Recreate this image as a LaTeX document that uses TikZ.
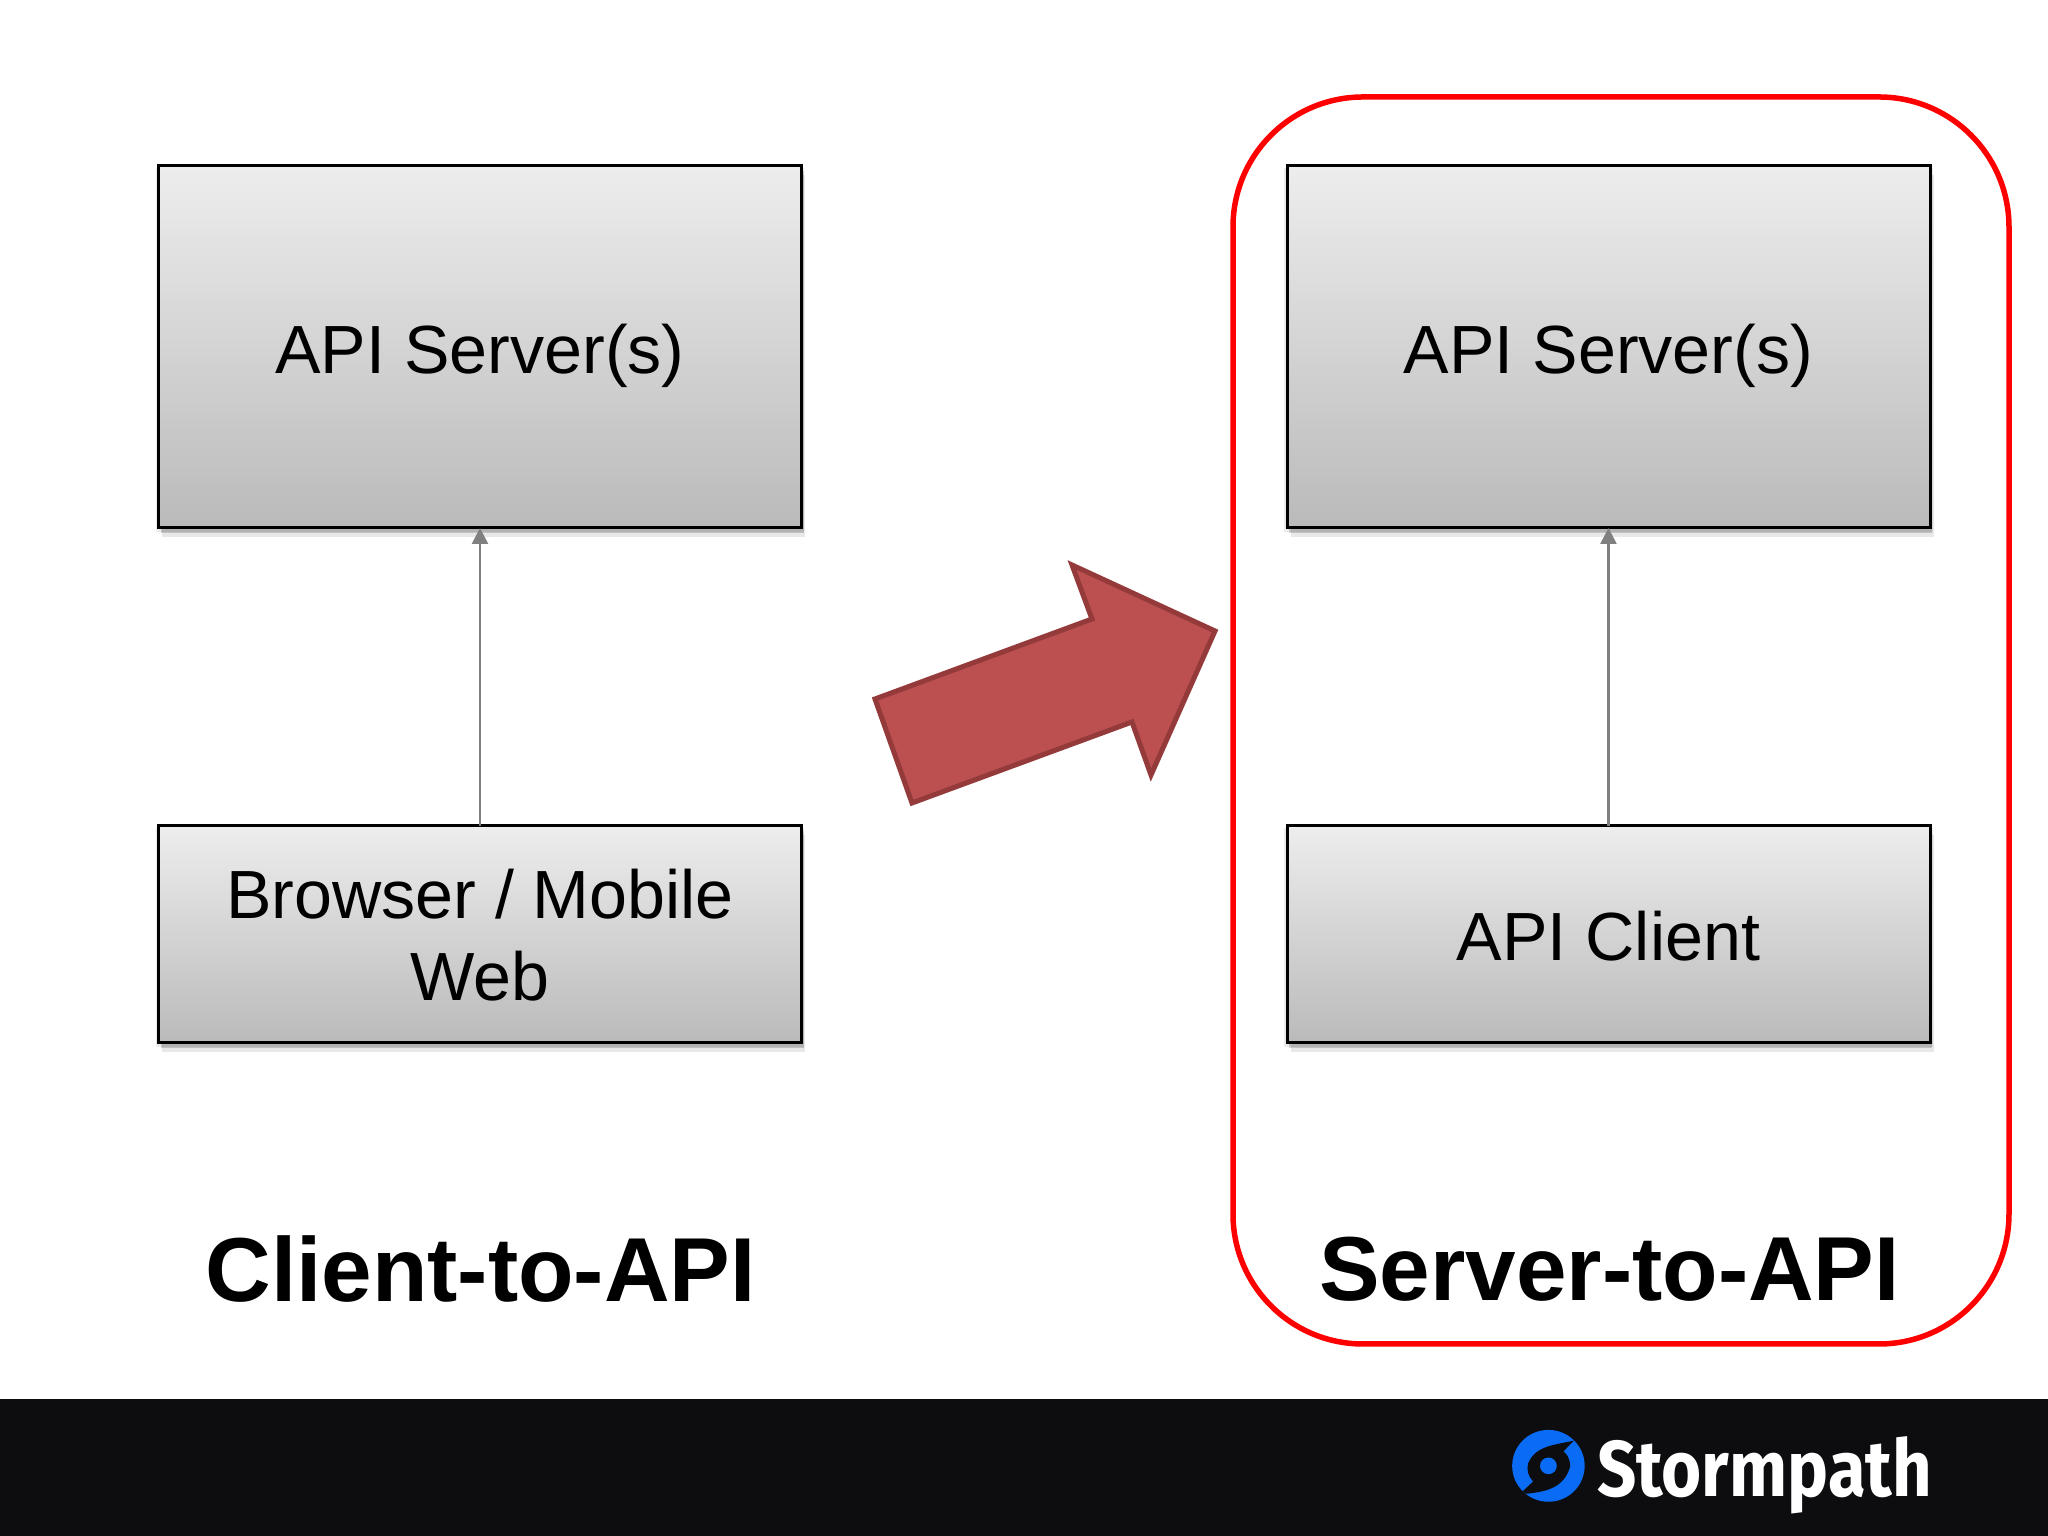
\documentclass[tikz,border=0pt]{standalone}
\usepackage{fontspec}
\setmainfont{Liberation Sans}
\newfontfamily\logofont{Fira Sans}
\usetikzlibrary{arrows.meta,shadows}
\definecolor{bandblack}{HTML}{0D0D0F}
\definecolor{logoblue}{HTML}{0A6CF5}
\definecolor{arrowfill}{HTML}{BC5050}
\definecolor{arrowedge}{HTML}{943A3A}
\tikzset{
    tierbox/.style={draw=black, line width=0.03cm, top color=black!7, bottom color=black!27,
        minimum width=6.43cm, outer sep=0pt, align=center, font=\fontsize{19.4}{23.4}\selectfont,
        drop shadow={shadow scale=1.008, shadow xshift=0cm, shadow yshift=-0.03cm, fill=black, opacity=0.08},
        drop shadow={shadow xshift=0.02cm, shadow yshift=-0.05cm, fill=black, opacity=0.16},
        drop shadow={shadow xshift=0.035cm, shadow yshift=-0.09cm, fill=black, opacity=0.09}},
    caption/.style={font=\fontsize{25.85}{30}\selectfont\bfseries},
    callarrow/.style={draw=black!50, line width=0.025cm, -{Triangle[length=0.16cm, width=0.16cm]}}
}
\begin{document}
\begin{tikzpicture}
    \useasboundingbox (0,0) rectangle (20.48,15.36);
    \fill[white] (0,0) rectangle (20.48,15.36);
    \fill[bandblack] (0,0) rectangle (20.48,1.37);
    % left side
    \node(serverleft)[tierbox, minimum height=3.62cm, text height=0.54cm, text depth=0pt] at (4.8,11.89) {API Server(s)};
    \node(browser)[tierbox, minimum height=2.17cm, text depth=-0.07cm] at (4.8,6.015) {Browser / Mobile\\Web};
    \draw[callarrow](browser.north)--(serverleft.south);
    \node(clientcaption)[caption] at (4.805,2.67) {Client-to-API};
    % right side
    \node(frame)[draw=red, line width=0.055cm, rounded corners=1.3cm, minimum width=7.76cm, minimum height=12.47cm] at (16.21,8.155) {};
    \node(serverright)[tierbox, minimum height=3.62cm, text height=0.54cm, text depth=0pt] at (16.085,11.89) {API Server(s)};
    \node(apiclient)[tierbox, minimum height=2.17cm, text height=0.52cm, text depth=0pt] at (16.085,6.015) {API Client};
    \draw[callarrow](apiclient.north)--(serverright.south);
    \node(servercaption)[caption] at (16.095,2.67) {Server-to-API};
    % big arrow
    \draw[fill=arrowfill, draw=arrowedge, line width=0.05cm, miter limit=10]
        (8.75,8.37)--(10.92,9.17)--(10.72,9.71)--(12.15,9.05)--(11.51,7.61)--(11.32,8.14)--(9.12,7.33)--cycle;
    % logo
    \begin{scope}[shift={(14.5,1.36)}, x=0.003814cm, y=-0.00333cm]
        \fill[logoblue] (258,198) ellipse (95 and 108);
        \fill[bandblack] (325,122) .. controls (280,135) and (225,135) .. (205,190)
            .. controls (200,210) and (205,230) .. (218,245)--(190,275)--(200,282)
            .. controls (260,275) and (300,260) .. (315,200)
            .. controls (315,175) and (305,160) .. (297,155)--cycle;
        \fill[logoblue] (258,198) ellipse (22 and 25);
    \end{scope}
    \node(logotext)[white, anchor=base, font=\logofont\bfseries\fontsize{22.5}{23}\selectfont, xscale=0.87, transform shape] at (17.645,0.395) {Stormpath};
\end{tikzpicture}
\end{document}
